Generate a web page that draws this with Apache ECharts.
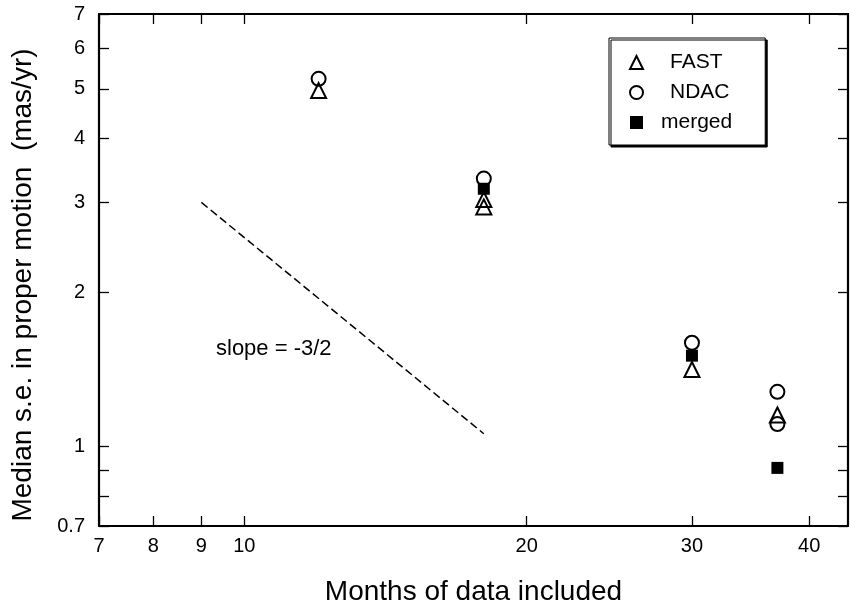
<!DOCTYPE html>
<html><head><meta charset="utf-8">
<script src="https://cdn.jsdelivr.net/npm/echarts@6.0.0/dist/echarts.min.js"></script>
<style>html,body{margin:0;padding:0;background:#fff}#c{width:850px;height:611px}</style>
</head><body><div id="c"></div>
<script>
// ---- data (months, median s.e. in mas/yr) ----
const xTickValues = [7, 8, 9, 10, 20, 30, 40];
const xLabelValues = [7, 8, 9, 10, 20, 30, 40];
const yTickValues = [0.7, 0.8, 0.9, 1, 2, 3, 4, 5, 6, 7];
const yLabelValues = [0.7, 1, 2, 3, 4, 5, 6, 7];
const xRange = [7, 44];
const yRange = [0.7, 7];
const seriesNames = ['FAST', 'NDAC', 'merged'];
const fastMonths = [12, 18, 18, 30, 37];
const fastSE = [4.96, 3.04, 2.94, 1.415, 1.153];
const ndacMonths = [12, 18, 30, 37, 37];
const ndacSE = [5.23, 3.34, 1.596, 1.28, 1.107];
const mergedMonths = [18, 30, 37];
const mergedSE = [3.19, 1.506, 0.909];
const slopeMonths = [9, 18];
const slopeSE = [3.0, 1.06];
const xTitle = 'Months of data included';
const yTitle = 'Median s.e. in proper motion  (mas/yr)';
const slopeText = 'slope = -3/2';

// ---- helpers ----
const lg = Math.log10;
const pairs = (xs, ys) => xs.map((x, i) => [lg(x), lg(ys[i])]);
const fmt = v => String(parseFloat(Math.pow(10, v).toPrecision(3)));
const FONT = "'Liberation Sans', Arial, Helvetica, sans-serif";
const BLACK = '#000';

function makeAxis(kind, pos, showLabels, extra) {
  const isX = kind === 'x';
  const range = isX ? xRange : yRange;
  const ticks = isX ? xTickValues : yTickValues;
  const labels = isX ? xLabelValues : yLabelValues;
  return Object.assign({
    type: 'value', position: pos,
    min: lg(range[0]), max: lg(range[1]),
    axisLine: { show: true, onZero: false, lineStyle: { color: BLACK, width: 2.2 } },
    axisTick: { show: true, inside: true, length: 10, customValues: ticks.map(lg),
      lineStyle: { color: BLACK, width: 1.3 } },
    axisLabel: { show: showLabels, customValues: labels.map(lg), formatter: fmt,
      margin: isX ? 10 : 14, color: BLACK, fontSize: 20, fontFamily: FONT },
    splitLine: { show: false }
  }, extra || {});
}

const chart = echarts.init(document.getElementById('c'), null, { renderer: 'canvas' });
chart.setOption({
  animation: false,
  backgroundColor: '#fff',
  grid: { left: 99, right: 2, top: 14, bottom: 84, containLabel: false },
  xAxis: [
    makeAxis('x', 'bottom', true, {
      name: xTitle, nameLocation: 'middle', nameGap: 52,
      nameTextStyle: { fontSize: 28, color: BLACK, fontFamily: FONT }
    }),
    makeAxis('x', 'top', false)
  ],
  yAxis: [
    makeAxis('y', 'left', true, {
      name: yTitle, nameLocation: 'middle', nameGap: 62,
      nameTextStyle: { fontSize: 28, color: BLACK, fontFamily: FONT, padding: [0, 30, 0, 0] }
    }),
    makeAxis('y', 'right', false)
  ],
  legend: {
    data: [
      { name: seriesNames[0], textStyle: { padding: [0, 0, 0, 22] } },
      { name: seriesNames[1], textStyle: { padding: [0, 0, 0, 22] } },
      { name: seriesNames[2], textStyle: { padding: [0, 0, 0, 13] } }
    ],
    orient: 'vertical', left: 609, top: 38,
    itemWidth: 13, itemHeight: 13, itemGap: 9,
    padding: [14, 33, 12, 20],
    backgroundColor: '#fff', borderColor: BLACK, borderWidth: 1, borderRadius: 0,
    shadowColor: BLACK, shadowBlur: 0, shadowOffsetX: 2, shadowOffsetY: 2,
    textStyle: { fontSize: 21, color: BLACK, fontFamily: FONT },
    itemStyle: { opacity: 1 },
    selectedMode: false
  },
  graphic: [{
    type: 'text', x: 216, y: 349,
    style: { text: slopeText, font: '22px ' + FONT, fill: BLACK, align: 'left', verticalAlign: 'middle' }
  }],
  series: [
    {
      name: 'slope', type: 'line', data: pairs(slopeMonths, slopeSE),
      symbol: 'none', silent: true,
      lineStyle: { color: BLACK, width: 1.5, type: [8, 4] }, z: 1
    },
    {
      name: seriesNames[2], type: 'scatter', data: pairs(mergedMonths, mergedSE),
      symbol: 'rect', symbolSize: 12,
      itemStyle: { color: BLACK, borderWidth: 0, opacity: 1 }, z: 2
    },
    {
      name: seriesNames[1], type: 'scatter', data: pairs(ndacMonths, ndacSE),
      symbol: 'circle', symbolSize: 14,
      itemStyle: { color: 'rgba(255,255,255,0)', borderColor: BLACK, borderWidth: 2, opacity: 1 }, z: 3
    },
    {
      name: seriesNames[0], type: 'scatter', data: pairs(fastMonths, fastSE),
      symbol: 'triangle', symbolSize: 15,
      itemStyle: { color: 'rgba(255,255,255,0)', borderColor: BLACK, borderWidth: 2, opacity: 1 }, z: 4
    }
  ]
});
</script>
</body></html>
